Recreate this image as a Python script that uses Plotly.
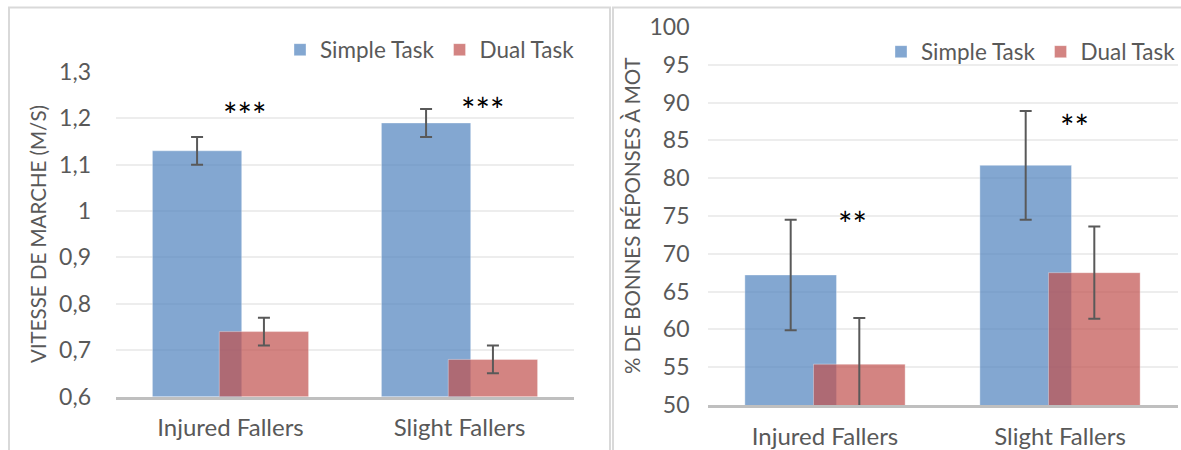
import plotly.graph_objects as go

# ---------------- data ----------------
categories = ["Injured Fallers", "Slight Fallers"]
series_names = ["Simple Task", "Dual Task"]

speed_simple = [1.13, 1.19]
speed_simple_err = [0.03, 0.03]
speed_dual = [0.74, 0.68]
speed_dual_err = [0.03, 0.03]

words_simple = [67.2, 81.7]
words_simple_err = [7.3, 7.2]
words_dual = [55.4, 67.5]
words_dual_err = [6.1, 6.1]

speed_ticks = [0.6, 0.7, 0.8, 0.9, 1.0, 1.1, 1.2, 1.3]
speed_tick_labels = ["0,6", "0,7", "0,8", "0,9", "1", "1,1", "1,2", "1,3"]
words_ticks = [50, 55, 60, 65, 70, 75, 80, 85, 90, 95, 100]
words_tick_labels = [str(v) for v in words_ticks]

speed_sig = ["***", "***"]
words_sig = ["**", "**"]

# ---------------- style ----------------
FONT = "Lato"
GREY = "#595959"
BLUE = "rgba(79,129,189,0.70)"
RED = "rgba(192,80,77,0.70)"
BAR_W = 0.39
OFF = [-0.341, -0.049]
TICK_SIZE = 23
CAT_SIZE = 24
LEG_SIZE = 22.5
TITLE_SIZE = 20.5
STAR_SIZE = 34

fig = go.Figure()


def add_panel(vals_s, err_s, vals_d, err_d, xa, ya, legend):
    for i, (vals, errs, col) in enumerate([(vals_s, err_s, BLUE), (vals_d, err_d, RED)]):
        fig.add_trace(go.Bar(
            x=categories, y=vals, name=series_names[i],
            width=BAR_W, offset=OFF[i],
            marker=dict(color=col, line=dict(color="rgba(255,255,255,0.35)", width=1)),
            error_y=dict(type="data", array=errs, visible=True,
                         color=GREY, thickness=2, width=6),
            xaxis=xa, yaxis=ya, legend=legend, showlegend=True,
        ))


add_panel(speed_simple, speed_simple_err, speed_dual, speed_dual_err, "x", "y", "legend")
add_panel(words_simple, words_simple_err, words_dual, words_dual_err, "x2", "y2", "legend2")

xcommon = dict(showgrid=False, zeroline=False, ticks="", showline=True, automargin=False,
               linecolor="#BFBFBF", linewidth=3, ticklabelstandoff=8,
               tickfont=dict(family=FONT, size=CAT_SIZE, color=GREY))
ycommon = dict(showline=False, showgrid=True, gridcolor="#EDEDED", gridwidth=2,
               zeroline=False, ticks="", automargin=False,
               tickfont=dict(family=FONT, size=TICK_SIZE, color=GREY))

fig.update_layout(
    template="none",
    width=1181, height=450,
    margin=dict(l=0, r=0, t=0, b=0, autoexpand=False),
    paper_bgcolor="white", plot_bgcolor="white",
    barmode="overlay",
    font=dict(family=FONT, color=GREY),
    xaxis=dict(domain=[116 / 1181, 574 / 1181], range=[-0.5, 1.5], anchor="y", **xcommon),
    yaxis=dict(domain=[(450 - 396.5) / 450, (450 - 72) / 450], range=[0.6, 1.3], anchor="x",
               tickvals=speed_ticks, ticktext=speed_tick_labels, ticklabelstandoff=24, **ycommon),
    xaxis2=dict(domain=[707.5 / 1181, 1177.5 / 1181], range=[-0.5, 1.5], anchor="y2", **xcommon),
    yaxis2=dict(domain=[(450 - 405) / 450, (450 - 27) / 450], range=[50, 100], anchor="x2",
                tickvals=words_ticks, ticktext=words_tick_labels, ticklabelstandoff=17, **ycommon),
    legend=dict(orientation="h", x=580 / 1181, xanchor="right", y=1 - 50 / 450, yanchor="middle",
                font=dict(family=FONT, size=LEG_SIZE, color=GREY), bgcolor="rgba(0,0,0,0)",
                itemwidth=30, tracegroupgap=0),
    legend2=dict(orientation="h", x=1181 / 1181, xanchor="right", y=1 - 52 / 450, yanchor="middle",
                 font=dict(family=FONT, size=LEG_SIZE, color=GREY), bgcolor="rgba(0,0,0,0)",
                 itemwidth=30, tracegroupgap=0),
)

# y-axis titles
fig.add_annotation(text="VITESSE DE MARCHE (M/S)", xref="paper", yref="paper",
                   x=38 / 1181, y=1 - 234 / 450, xanchor="center", yanchor="middle",
                   textangle=-90, showarrow=False,
                   font=dict(family=FONT, size=TITLE_SIZE, color=GREY))
fig.add_annotation(text="% DE BONNES RÉPONSES À MOT", xref="paper", yref="paper",
                   x=632 / 1181, y=1 - 216 / 450, xanchor="center", yanchor="middle",
                   textangle=-90, showarrow=False,
                   font=dict(family=FONT, size=TITLE_SIZE, color=GREY))

# significance stars
speed_sig_pos = [(0.06, 1.209), (1.10, 1.219)]
words_sig_pos = [(0.115, 74.0), (1.06, 86.9)]
for s, (px, py) in zip(speed_sig, speed_sig_pos):
    fig.add_annotation(text=s, x=px, y=py, xref="x", yref="y", showarrow=False,
                       font=dict(family=FONT, size=STAR_SIZE, color="black"))
for s, (px, py) in zip(words_sig, words_sig_pos):
    fig.add_annotation(text=s, x=px, y=py, xref="x2", yref="y2", showarrow=False,
                       font=dict(family=FONT, size=STAR_SIZE, color="black"))

# panel borders
fig.add_shape(type="rect", xref="paper", yref="paper",
              x0=9 / 1181, x1=610 / 1181, y0=-0.05, y1=1 - 7.5 / 450,
              line=dict(color="#D9D9D9", width=2))
fig.add_shape(type="rect", xref="paper", yref="paper",
              x0=613 / 1181, x1=1.05, y0=-0.05, y1=1 - 7.5 / 450,
              line=dict(color="#D9D9D9", width=2))

fig.write_html("out.html", config={"displayModeBar": False},
               post_script="document.body.style.margin='0';document.body.style.overflow='hidden';")
